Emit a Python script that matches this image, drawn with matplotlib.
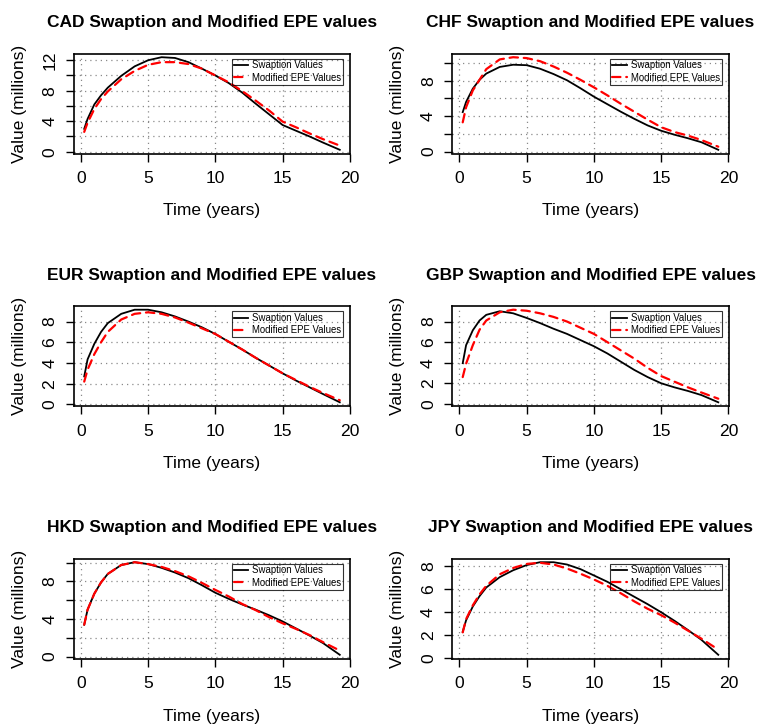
import matplotlib
matplotlib.use("Agg")
import matplotlib.pyplot as plt

plt.rcParams.update({
    "font.family": ["Liberation Sans", "DejaVu Sans"],
    "axes.linewidth": 1.2,
})

# time grid (years) shared by all currencies
years = [0.25, 0.5, 1, 1.5, 2, 3, 4, 5, 6, 7, 8, 9, 10, 11, 12, 13, 14,
         15, 16, 17, 18, 19.25]

currencies = ["CAD", "CHF", "EUR", "GBP", "HKD", "JPY"]

# values in millions
cad_swaption = [3.0, 4.3, 6.2, 7.4, 8.4, 9.95, 11.2, 12.0, 12.4, 12.3, 11.75,
                10.9, 10.0, 9.0, 7.75, 6.3, 4.9, 3.5, 2.75, 2.0, 1.2, 0.25]
cad_epe = [2.6, 3.8, 5.6, 6.9, 7.9, 9.5, 10.6, 11.4, 11.75, 11.75, 11.5,
           10.9, 10.0, 9.1, 7.95, 6.7, 5.4, 3.95, 3.2, 2.4, 1.65, 0.8]

chf_swaption = [4.45, 5.6, 7.1, 8.1, 8.8, 9.55, 9.8, 9.75, 9.35, 8.75, 8.05,
                7.15, 6.2, 5.35, 4.5, 3.7, 2.95, 2.35, 1.9, 1.5, 1.05, 0.2]
chf_epe = [3.3, 5.0, 6.9, 8.1, 9.3, 10.4, 10.65, 10.55, 10.2, 9.6, 8.9,
           8.1, 7.25, 6.35, 5.4, 4.5, 3.6, 2.75, 2.2, 1.8, 1.3, 0.55]

eur_swaption = [2.7, 4.35, 5.85, 7.0, 7.85, 8.75, 9.15, 9.15, 8.9, 8.5, 8.0,
                7.45, 6.8, 6.05, 5.3, 4.5, 3.75, 3.0, 2.3, 1.65, 1.0, 0.2]
eur_epe = [2.2, 3.35, 4.85, 6.0, 7.0, 8.2, 8.75, 8.9, 8.75, 8.4, 7.9,
           7.35, 6.8, 6.05, 5.3, 4.5, 3.75, 3.0, 2.35, 1.7, 1.1, 0.4]

gbp_swaption = [3.95, 5.7, 7.15, 8.1, 8.65, 9.0, 8.8, 8.35, 7.85, 7.3, 6.8,
                6.2, 5.6, 4.9, 4.1, 3.3, 2.6, 2.0, 1.6, 1.25, 0.85, 0.15]
gbp_epe = [2.6, 3.9, 5.7, 7.2, 8.1, 8.9, 9.15, 9.05, 8.8, 8.45, 8.0,
           7.4, 6.8, 6.0, 5.2, 4.4, 3.5, 2.7, 2.15, 1.6, 1.1, 0.5]

hkd_swaption = [3.4, 5.0, 6.7, 7.9, 8.8, 9.75, 10.05, 9.85, 9.45, 8.95, 8.35,
                7.6, 6.8, 6.15, 5.55, 5.0, 4.4, 3.75, 3.0, 2.25, 1.45, 0.2]
hkd_epe = [3.4, 5.0, 6.7, 7.9, 8.8, 9.75, 10.05, 9.85, 9.55, 9.1, 8.55,
           7.85, 7.1, 6.4, 5.6, 4.95, 4.2, 3.55, 2.95, 2.3, 1.55, 0.65]

jpy_swaption = [2.3, 3.3, 4.5, 5.4, 6.15, 7.05, 7.65, 8.1, 8.35, 8.35, 8.15,
                7.75, 7.2, 6.65, 6.0, 5.35, 4.7, 4.0, 3.25, 2.45, 1.6, 0.3]
jpy_epe = [2.25, 3.4, 4.6, 5.55, 6.3, 7.3, 7.85, 8.2, 8.3, 8.15, 7.8,
           7.35, 6.85, 6.3, 5.65, 4.95, 4.3, 3.75, 3.1, 2.4, 1.7, 0.75]

swaption = [cad_swaption, chf_swaption, eur_swaption,
            gbp_swaption, hkd_swaption, jpy_swaption]
epe = [cad_epe, chf_epe, eur_epe, gbp_epe, hkd_epe, jpy_epe]

x_ticks = [0, 5, 10, 15, 20]
y_ticks = [
    [0, 2, 4, 6, 8, 10, 12],
    [0, 2, 4, 6, 8, 10],
    [0, 2, 4, 6, 8],
    [0, 2, 4, 6, 8],
    [0, 2, 4, 6, 8, 10],
    [0, 2, 4, 6, 8],
]
y_ticklabels = [
    ["0", "", "4", "", "8", "", "12"],
    ["0", "", "4", "", "8", ""],
    ["0", "2", "4", "6", "8"],
    ["0", "2", "4", "6", "8"],
    ["0", "", "4", "", "8", ""],
    ["0", "2", "4", "6", "8"],
]

W, H = 758, 725
fig = plt.figure(figsize=(W / 100, H / 100), dpi=100)

col_left = [74, 452.5]
col_width = 276
row_top = [53.5, 306, 558.5]
row_height = 100

for i, cur in enumerate(currencies):
    r, c = divmod(i, 2)
    left = col_left[c] / W
    bottom = 1 - (row_top[r] + row_height) / H
    ax = fig.add_axes([left, bottom, col_width / W, row_height / H])

    ax.plot(years, swaption[i], color="black", lw=1.3,
            label="Swaption Values", zorder=3)
    ax.plot(years, epe[i], color="red", lw=1.6, dashes=(3.8, 2.6),
            dash_capstyle="round", label="Modified EPE Values", zorder=4)
    ax.margins(0.04)

    ax.set_xticks(x_ticks)
    ax.set_yticks(y_ticks[i])
    ax.set_yticklabels(y_ticklabels[i], rotation=90, va="center")
    ax.tick_params(direction="out", length=5.8, width=1.0, labelsize=12.6,
                   color="black")
    ax.tick_params(axis="x", pad=7)
    ax.tick_params(axis="y", pad=6)

    ax.grid(True, color="#8a8a8a", lw=0.9, linestyle=(0, (1, 3.2)))
    ax.set_axisbelow(True)

    ax.set_title(f"{cur} Swaption and Modified EPE values", fontsize=12.5,
                 fontweight="bold", pad=19)
    ax.set_xlabel("Time (years)", fontsize=12.5)
    ax.set_ylabel("Value (millions)", fontsize=12.5)
    ax.xaxis.set_label_coords(0.5, -0.50)
    ax.yaxis.set_label_coords(-0.172, 0.5)

    leg = ax.legend(loc="upper right", bbox_to_anchor=(0.975, 0.95),
                    borderaxespad=0, fontsize=6.9, handlelength=1.5,
                    handletextpad=0.4, borderpad=0.2, labelspacing=0.25,
                    fancybox=False, frameon=True)
    leg.get_frame().set_facecolor("none")
    leg.get_frame().set_edgecolor("black")
    leg.get_frame().set_linewidth(0.8)

fig.savefig("out.png", dpi=100)
